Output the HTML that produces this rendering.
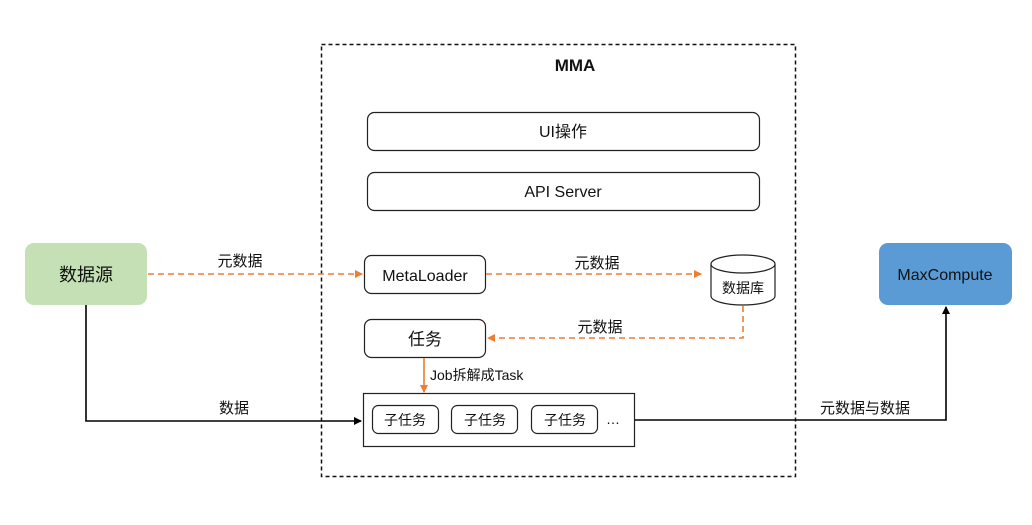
<!DOCTYPE html>
<html><head><meta charset="utf-8"><style>
html,body{margin:0;padding:0;background:#fff;}
svg text{font-family:"Liberation Sans","Noto Sans CJK SC",sans-serif;fill:#111;}
</style></head><body>
<svg width="1032" height="520" viewBox="0 0 1032 520" xmlns="http://www.w3.org/2000/svg">
<defs>
<marker id="ao" markerWidth="8" markerHeight="8" refX="7" refY="4" orient="auto" markerUnits="userSpaceOnUse"><path d="M0,0 L8,4 L0,8 z" fill="#ed7d31"/></marker>
<marker id="ab" markerWidth="8" markerHeight="8" refX="7" refY="4" orient="auto" markerUnits="userSpaceOnUse"><path d="M0,0 L8,4 L0,8 z" fill="#000"/></marker>
</defs>
<rect x="321.5" y="44.5" width="474" height="432" fill="none" stroke="#111" stroke-width="1.5" stroke-dasharray="4,3"/>
<text x="575" y="71" font-size="17" font-weight="bold" text-anchor="middle">MMA</text>
<rect x="367.5" y="112.5" width="392" height="38" rx="7" fill="#fff" stroke="#222" stroke-width="1.2"/>
<text x="563" y="137" font-size="16" text-anchor="middle">UI操作</text>
<rect x="367.5" y="172.5" width="392" height="38" rx="7" fill="#fff" stroke="#222" stroke-width="1.2"/>
<text x="563" y="197" font-size="16" text-anchor="middle">API Server</text>
<rect x="25" y="243" width="122" height="62" rx="9" fill="#c5e0b4"/>
<text x="86" y="281" font-size="18" text-anchor="middle">数据源</text>
<rect x="879" y="243" width="133" height="62" rx="9" fill="#5b9bd5"/>
<text x="945" y="280" font-size="16" text-anchor="middle">MaxCompute</text>
<rect x="364.5" y="255.5" width="121" height="38" rx="7" fill="#fff" stroke="#222" stroke-width="1.2"/>
<text x="425" y="281" font-size="16" text-anchor="middle">MetaLoader</text>
<rect x="364.5" y="319.5" width="121" height="38" rx="7" fill="#fff" stroke="#222" stroke-width="1.2"/>
<text x="425" y="345" font-size="17" text-anchor="middle">任务</text>
<path d="M711,264 L711,296 A32,9 0 0 0 775,296 L775,264" fill="#fff" stroke="#222" stroke-width="1.2"/>
<ellipse cx="743" cy="264" rx="32" ry="9" fill="#fff" stroke="#222" stroke-width="1.2"/>
<text x="743" y="293" font-size="14" text-anchor="middle">数据库</text>
<g stroke="#ed7d31" stroke-width="1.6" fill="none" stroke-dasharray="6,4">
<line x1="148" y1="274" x2="362" y2="274" marker-end="url(#ao)"/>
<line x1="486" y1="274" x2="701" y2="274" marker-end="url(#ao)"/>
<polyline points="743,306 743,338 488,338" marker-end="url(#ao)"/>
</g>
<line x1="424" y1="358" x2="424" y2="392" stroke="#ed7d31" stroke-width="1.6" marker-end="url(#ao)"/>
<text x="240" y="266" font-size="15" text-anchor="middle">元数据</text>
<text x="597" y="268" font-size="15" text-anchor="middle">元数据</text>
<text x="600" y="332" font-size="15" text-anchor="middle">元数据</text>
<text x="430" y="380" font-size="14">Job拆解成Task</text>
<rect x="363.5" y="393.5" width="271" height="53" fill="#fff" stroke="#222" stroke-width="1.2"/>
<rect x="372.5" y="405.5" width="66" height="28" rx="6" fill="#fff" stroke="#222" stroke-width="1.2"/>
<text x="405" y="425" font-size="14" text-anchor="middle">子任务</text>
<rect x="451.5" y="405.5" width="66" height="28" rx="6" fill="#fff" stroke="#222" stroke-width="1.2"/>
<text x="485" y="425" font-size="14" text-anchor="middle">子任务</text>
<rect x="531.5" y="405.5" width="66" height="28" rx="6" fill="#fff" stroke="#222" stroke-width="1.2"/>
<text x="565" y="425" font-size="14" text-anchor="middle">子任务</text>
<text x="613" y="424" font-size="14" text-anchor="middle">…</text>
<g stroke="#000" stroke-width="1.6" fill="none">
<polyline points="86,305 86,421 361,421" marker-end="url(#ab)"/>
<polyline points="635,420 946,420 946,307" marker-end="url(#ab)"/>
</g>
<text x="234" y="413" font-size="15" text-anchor="middle">数据</text>
<text x="865" y="413" font-size="15" text-anchor="middle">元数据与数据</text>
</svg>
</body></html>
